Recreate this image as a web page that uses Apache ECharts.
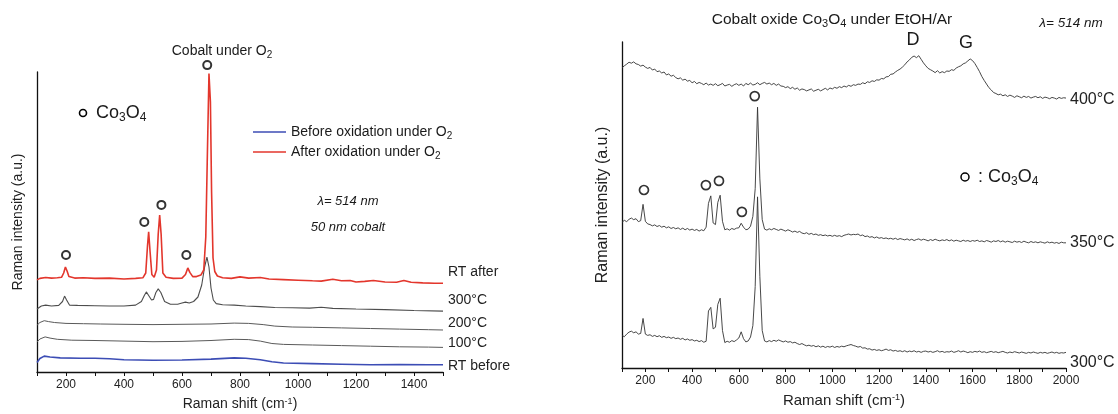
<!DOCTYPE html>
<html>
<head>
<meta charset="utf-8">
<title>Raman spectra of cobalt films</title>
<script src="https://cdn.jsdelivr.net/npm/echarts@6/dist/echarts.min.js"></script>
<style>
  html, body { margin: 0; padding: 0; background: #fff; }
  #chart { width: 1118px; height: 414px; }
</style>
</head>
<body>
<div id="chart"></div>
<script>
// ---------- Left panel: 50 nm cobalt film oxidised under O2 ----------
// [Raman shift (cm-1), stacked intensity (a.u.)]
const LEFT_RT_AFTER = [
  [100,30.7],[110,31.2],[130,31.5],[150,31.3],[170,31.4],[185,31.6],[192,33.0],[198,35.0],[204,33.6],[210,31.8],
  [230,31.3],[260,31.4],[300,31.2],[350,31.3],[400,31.0],[440,31.2],[465,31.4],[475,33.0],[481,42.0],[485,46.7],
  [490,40.0],[496,32.5],[504,31.6],[512,34.0],[518,46.0],[523,52.3],[528,46.0],[534,33.0],[545,31.6],[570,31.2],
  [600,31.3],[612,32.5],[620,34.7],[627,33.2],[637,31.8],[650,31.8],[665,32.3],[675,34.0],[682,45.0],[687,70.0],
  [693,99.5],[698,90.0],[702,60.0],[707,38.0],[713,33.5],[722,32.0],[740,31.4],[770,31.2],[800,31.7],[830,31.3],
  [870,31.5],[900,31.0],[950,30.8],[1000,30.6],[1050,30.4],[1080,30.3],[1120,30.9],[1150,30.4],[1180,30.5],[1200,30.0],
  [1230,30.2],[1260,30.5],[1300,30.0],[1340,29.9],[1365,30.5],[1390,29.9],[1430,29.7],[1470,29.6],[1500,29.6]
];
const LEFT_300C = [
  [100,21.0],[115,22.0],[130,22.3],[150,22.0],[175,22.2],[188,23.5],[195,25.3],[202,24.0],[212,22.3],[240,22.2],
  [300,22.1],[350,22.0],[400,22.0],[440,22.3],[460,23.5],[470,25.5],[477,26.7],[485,25.5],[495,24.0],[502,24.2],
  [510,26.5],[518,27.7],[527,26.5],[540,23.5],[560,22.6],[585,22.6],[600,23.0],[612,23.3],[625,23.0],[640,23.5],
  [655,25.0],[668,29.0],[678,35.0],[686,38.3],[693,35.0],[700,28.0],[708,24.0],[718,22.8],[740,22.4],[780,22.3],
  [820,22.0],[870,21.8],[920,21.5],[980,21.4],[1040,21.3],[1080,21.6],[1120,21.2],[1200,21.0],[1300,20.8],[1400,20.5],
  [1500,20.3]
];
const LEFT_200C = [
  [100,15.6],[110,16.5],[125,17.1],[140,16.8],[160,16.5],[200,16.2],[260,16.1],[320,16.0],[400,15.9],[500,15.8],
  [600,15.9],[700,16.0],[780,16.3],[830,16.2],[880,15.8],[920,15.3],[980,15.0],[1050,14.9],[1150,14.7],[1250,14.5],
  [1350,14.3],[1450,14.1],[1500,14.0]
];
const LEFT_100C = [
  [100,10.0],[110,11.0],[128,11.7],[145,11.3],[170,10.9],[220,10.6],[300,10.5],[400,10.3],[500,10.1],[600,10.2],
  [700,10.5],[780,10.9],[830,10.8],[870,10.3],[910,9.5],[950,9.2],[1050,9.0],[1150,8.8],[1250,8.6],[1350,8.4],
  [1450,8.3],[1500,8.2]
];
const LEFT_RT_BEFORE = [
  [100,3.2],[110,4.5],[125,5.3],[145,5.0],[180,4.7],[250,4.6],[300,4.6],[350,4.4],[400,4.1],[500,3.9],
  [600,4.0],[700,4.3],[780,4.7],[820,4.6],[870,4.1],[910,3.4],[950,3.0],[1050,2.8],[1150,2.6],[1250,2.4],
  [1350,2.5],[1450,2.4],[1500,2.4]
];
// Co3O4 band markers
const LEFT_MARKS = [[200,39],[470,50],[529,55.7],[615,39],[687,102.3]];
const LEFT_TICK_LABELS = [200,400,600,800,1000,1200,1400];

// ---------- Right panel: Co3O4 under EtOH/Ar ----------
// spectra sampled every 10 cm-1 from 100 to 2000 cm-1
const RIGHT_START = 100;
const RIGHT_STEP = 10;
const RIGHT_400C = [
  92.1,92.7,93.2,93.8,93.5,93.9,93.3,93.1,92.6,92.9,
  92.3,91.9,92.2,91.4,91.7,90.9,91.1,90.5,90.8,89.9,
  90.2,89.5,89.8,89.1,88.7,89.0,88.3,88.6,88.0,88.2,
  87.5,87.9,87.2,87.6,87.3,86.9,87.4,86.8,87.1,86.7,
  87.2,86.6,86.9,87.3,86.5,86.8,87.0,86.4,86.9,87.2,
  86.7,87.1,86.5,87.3,86.9,87.4,86.8,87.0,87.5,86.9,
  87.3,87.6,87.1,87.4,86.9,87.3,86.7,87.1,86.5,86.4,
  86.0,86.3,85.7,86.1,85.5,85.9,85.2,85.6,85.4,85.0,
  85.3,85.6,84.9,85.2,85.5,85.0,85.4,85.8,85.3,85.9,
  85.6,86.1,85.8,86.3,86.0,86.5,86.2,86.7,86.4,86.9,
  86.7,87.1,87.0,87.5,87.2,87.8,87.6,88.1,87.9,88.4,
  88.3,88.8,88.7,89.3,89.4,90.1,90.2,90.8,91.3,91.7,
  92.3,93.0,93.9,94.5,95.3,95.7,95.2,95.8,94.7,93.6,
  92.7,91.9,91.5,91.1,90.6,91.2,90.5,90.9,90.6,91.1,
  91.0,91.5,91.3,92.0,92.4,92.7,93.3,93.6,94.2,94.8,
  94.3,93.4,92.2,90.9,89.4,88.2,87.1,86.0,85.3,84.5,
  84.2,83.8,84.0,83.5,83.8,83.3,83.7,83.4,83.0,83.5,
  83.2,82.9,83.4,83.0,83.3,82.8,83.1,83.3,82.9,83.2,
  82.7,83.1,82.9,82.6,83.0,82.8,82.5,83.0,82.7,82.9,
  82.8
];
const RIGHT_350C = [
  44.7,45.3,44.9,45.6,46.0,45.5,45.8,44.9,45.2,50.2,
  45.0,44.2,44.0,43.6,43.9,43.4,43.7,43.2,43.5,43.0,
  43.3,42.8,43.1,42.7,43.0,42.5,42.9,42.4,42.8,42.3,
  42.6,42.2,42.5,42.0,42.4,42.1,43.2,50.5,52.8,44.5,
  44.0,50.8,53.0,45.0,42.4,42.7,42.3,42.8,42.5,42.9,
  43.0,44.4,43.2,42.4,42.6,43.5,46.5,55.0,80.0,58.0,
  45.5,42.6,42.3,42.7,42.4,42.8,42.5,42.2,42.6,42.3,
  42.0,42.4,42.1,41.7,42.0,41.6,41.9,41.4,41.2,41.5,
  41.0,41.3,40.9,41.1,40.7,40.9,40.6,40.8,40.5,40.7,
  40.4,40.7,40.4,40.6,40.3,40.7,40.9,41.1,40.8,41.0,
  40.9,41.1,40.6,40.8,40.3,40.5,40.1,40.3,39.9,40.2,
  39.8,40.0,39.7,39.9,39.6,39.8,39.5,39.8,39.4,39.7,
  39.5,39.3,39.6,39.2,39.5,39.1,39.4,39.6,39.2,39.5,
  39.3,39.0,39.4,39.1,39.5,39.2,39.0,39.3,39.1,39.4,
  39.0,39.3,38.9,39.2,39.0,38.8,39.2,38.9,39.1,38.8,
  39.1,38.9,39.2,38.8,39.0,38.7,39.1,38.9,38.6,39.0,
  38.8,39.1,38.7,39.0,38.6,38.9,38.7,38.5,38.9,38.6,
  38.8,38.5,38.9,38.6,38.4,38.8,38.5,38.7,38.4,38.7,
  38.5,38.3,38.7,38.4,38.6,38.3,38.5,38.2,38.6,38.4,
  38.4
];
const RIGHT_300C = [
  10.0,9.6,10.4,11.0,11.3,10.8,11.1,10.4,10.6,15.2,
  10.4,10.0,10.2,9.7,10.0,9.6,9.9,9.4,9.7,9.3,
  9.5,9.1,9.4,9.0,9.2,8.8,9.1,8.6,8.9,8.5,
  8.7,8.3,8.5,8.1,8.4,7.9,8.2,17.5,18.6,12.0,
  12.5,19.5,21.4,11.5,7.8,8.2,7.9,8.4,8.1,8.6,
  9.2,11.1,9.0,8.0,8.3,9.5,13.0,25.0,52.5,28.0,
  11.5,8.3,8.0,8.4,8.1,8.5,8.2,8.6,8.3,8.0,
  8.3,7.9,8.1,7.7,7.9,7.5,7.2,7.5,7.1,6.8,
  7.0,6.7,6.9,6.5,6.8,6.4,6.7,6.3,6.6,6.4,
  6.7,6.3,6.6,6.4,6.7,6.5,6.8,7.0,7.2,6.9,
  6.7,6.4,6.6,6.1,6.2,5.8,5.9,5.5,5.7,5.4,
  5.6,5.3,5.5,5.8,5.4,5.6,5.2,5.4,5.1,5.3,
  5.0,5.3,4.9,5.2,5.0,5.3,4.9,5.1,4.8,5.1,
  5.2,4.9,5.1,4.8,5.0,5.3,4.9,5.1,4.8,5.0,
  4.9,5.2,4.8,5.0,5.3,4.9,5.2,5.0,4.7,5.0,
  4.8,5.1,4.9,5.2,4.8,5.0,4.7,4.9,5.1,4.8,
  5.0,4.7,4.9,5.1,4.8,4.6,4.9,4.7,5.0,4.8,
  4.6,4.9,4.7,4.5,4.8,4.6,4.9,4.7,4.5,4.8,
  4.6,4.8,4.5,4.7,4.9,4.6,4.8,4.5,4.7,4.6,
  4.8
];
const RIGHT_MARKS = [[194,54.6],[459,56.1],[515,57.4],[613,47.9],[668,83.4]];
const RIGHT_TICK_LABELS = [200,400,600,800,1000,1200,1400,1600,1800,2000];

const LEGEND_TEXT = {
  'RT before': '{m|Before oxidation under O}{s|2}',
  'RT after': '{m|After oxidation under O}{s|2}'
};

const FONT = '"Liberation Sans", Arial, Helvetica, sans-serif';
const INK = '#1a1a1a';

function sampled(values) {
  return values.map((v, i) => [RIGHT_START + i * RIGHT_STEP, v]);
}

// rich-text styles: m = normal run, s = subscript digit set below the baseline
function chemRich(size) {
  const sub = Math.round(size * 0.68);
  return {
    m: { fontSize: size, lineHeight: size, verticalAlign: 'top', fontFamily: FONT, fill: INK, color: INK },
    s: { fontSize: sub, lineHeight: sub, verticalAlign: 'top', padding: [Math.round(size * 0.46), 0, 0, 0],
         fontFamily: FONT, fill: INK, color: INK }
  };
}

function xAxisFor(grid, min, max, labels, nameSize) {
  return {
    type: 'value', gridIndex: grid, min: min, max: max, interval: 100,
    axisLine: { show: true, onZero: false, lineStyle: { color: '#111', width: 1.3 } },
    axisTick: { show: true, inside: false, length: 4, lineStyle: { color: '#111', width: 1 } },
    axisLabel: {
      show: true, margin: 7, fontSize: 12, color: '#222', fontFamily: FONT,
      showMinLabel: true, showMaxLabel: true,
      formatter: v => labels.indexOf(v) >= 0 ? String(v) : ''
    },
    splitLine: { show: false },
    name: 'Raman shift (cm{sup|-1})', nameLocation: 'middle', nameGap: 25,
    nameTextStyle: {
      fontSize: nameSize, color: '#222', fontFamily: FONT,
      rich: { sup: { fontSize: 9, lineHeight: 5, verticalAlign: 'top', color: '#222', fontFamily: FONT } }
    }
  };
}

function yAxisFor(grid, max, gap, size) {
  return {
    type: 'value', gridIndex: grid, min: 0, max: max,
    axisLine: { show: true, lineStyle: { color: '#111', width: 1.3 } },
    axisTick: { show: false }, axisLabel: { show: false }, splitLine: { show: false },
    name: 'Raman intensity (a.u.)', nameLocation: 'middle', nameGap: gap,
    nameTextStyle: { fontSize: size, color: '#222', fontFamily: FONT }
  };
}

function spectrum(name, data, axis, color, width, labelText, offset, labelSize, z) {
  return {
    name: name, type: 'line', xAxisIndex: axis, yAxisIndex: axis, data: data,
    showSymbol: false, symbol: 'none', z: z || 2,
    color: color,
    lineStyle: { color: color, width: width },
    itemStyle: { color: color },
    endLabel: {
      show: true, formatter: labelText, offset: offset, distance: axis === 0 ? 5 : 4,
      fontSize: labelSize, color: '#222', fontFamily: FONT
    },
    emphasis: { disabled: true }
  };
}

function markers(data, axis, size, border) {
  return {
    type: 'scatter', xAxisIndex: axis, yAxisIndex: axis, data: data, clip: false,
    symbol: 'circle', symbolSize: size, z: 5,
    itemStyle: { color: '#fff', borderColor: '#000', borderWidth: border },
    emphasis: { disabled: true }
  };
}

function label(text, x, y, size, opts) {
  opts = opts || {};
  return {
    type: 'text', x: x, y: y, z: 10,
    style: {
      text: text, fontSize: size, fontFamily: FONT, fill: INK,
      fontStyle: opts.italic ? 'italic' : 'normal',
      align: opts.align || 'center', verticalAlign: 'middle', lineHeight: size,
      rich: chemRich(size)
    }
  };
}

function ring(x, y, r, w) {
  return { type: 'circle', shape: { cx: x, cy: y, r: r }, z: 10,
           style: { fill: '#fff', stroke: '#000', lineWidth: w } };
}

const chart = echarts.init(document.getElementById('chart'), null, { renderer: 'canvas' });

chart.setOption({
  animation: false,
  backgroundColor: '#fff',
  textStyle: { fontFamily: FONT },
  grid: [
    { left: 37, top: 72, width: 406, height: 300, containLabel: false, outerBoundsMode: 'none' },
    { left: 622, top: 42, width: 444, height: 326, containLabel: false, outerBoundsMode: 'none' }
  ],
  xAxis: [
    xAxisFor(0, 100, 1500, LEFT_TICK_LABELS, 14),
    xAxisFor(1, 100, 2000, RIGHT_TICK_LABELS, 15)
  ],
  yAxis: [
    yAxisFor(0, 100, 12, 14),
    yAxisFor(1, 100, 11, 16)
  ],
  legend: {
    data: ['RT before', 'RT after'],
    orient: 'vertical', left: 248, top: 120,
    icon: 'rect', itemWidth: 33, itemHeight: 1.5, itemGap: 4,
    selectedMode: false,
    formatter: name => LEGEND_TEXT[name],
    textStyle: { fontSize: 14, color: '#222', fontFamily: FONT, rich: chemRich(14) }
  },
  series: [
    spectrum('RT after', LEFT_RT_AFTER, 0, '#e3362c', 1.6, 'RT after', [0, -11], 14, 4),
    spectrum('300°C', LEFT_300C, 0, '#4d4d4d', 1.1, '300°C', [0, -11], 14, 3),
    spectrum('200°C', LEFT_200C, 0, '#5a5a5a', 1.0, '200°C', [0, -7], 14),
    spectrum('100°C', LEFT_100C, 0, '#5a5a5a', 1.0, '100°C', [0, -4], 14),
    spectrum('RT before', LEFT_RT_BEFORE, 0, '#3c4db5', 1.6, 'RT before', [0, 1], 14),
    markers(LEFT_MARKS, 0, 8, 2),

    spectrum('400°C EtOH/Ar', sampled(RIGHT_400C), 1, '#333333', 0.9, '400°C', [0, 2], 16),
    spectrum('350°C EtOH/Ar', sampled(RIGHT_350C), 1, '#333333', 0.9, '350°C', [0, 0], 16),
    spectrum('300°C EtOH/Ar', sampled(RIGHT_300C), 1, '#333333', 0.9, '300°C', [0, 10], 16),
    markers(RIGHT_MARKS, 1, 9, 1.7)
  ],
  graphic: [
    // left panel annotations
    label('{m|Cobalt under O}{s|2}', 222, 51, 14),
    ring(83, 113, 3.5, 1.6),
    label('{m|Co}{s|3}{m|O}{s|4}', 96, 113, 18, { align: 'left' }),
    label('λ= 514 nm', 348, 201, 13, { italic: true }),
    label('50 nm cobalt', 348, 227, 13, { italic: true }),
    // right panel annotations
    label('{m|Cobalt oxide Co}{s|3}{m|O}{s|4}{m| under EtOH/Ar}', 832, 19, 15.5),
    label('λ= 514 nm', 1071, 23, 13.5, { italic: true }),
    label('D', 913, 40, 18),
    label('G', 966, 43, 18),
    ring(965, 177, 4, 1.5),
    label('{m|: Co}{s|3}{m|O}{s|4}', 978, 177, 18, { align: 'left' })
  ]
});
</script>
</body>
</html>
